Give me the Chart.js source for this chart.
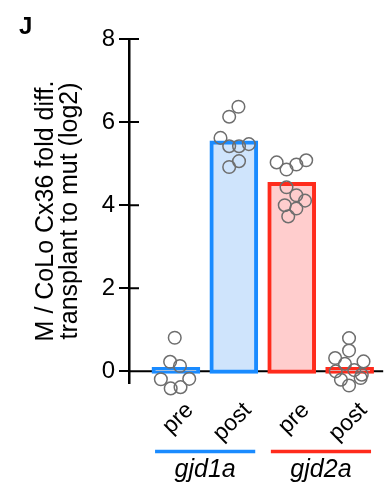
<!DOCTYPE html>
<html>
<head>
<meta charset="utf-8">
<script src="https://cdn.jsdelivr.net/npm/chart.js@4.4.1/dist/chart.umd.min.js"></script>
<style>
  html, body { margin: 0; padding: 0; background: #fff; }
  canvas { display: block; }
</style>
</head>
<body>
<canvas id="chart" width="391" height="492"></canvas>
<script>
//========================
// Data
//========================
const categories = ['pre', 'post', 'pre', 'post'];
const groups = ['gjd1a', 'gjd2a'];
const groupFirst = [0, 2];
const groupLast = [1, 3];
const barMeans = [0.1, 5.55, 4.55, 0.1];
const yTicks = [0, 2, 4, 6, 8];

// single fish, jitter = sideways offset from the category centre
const gjd1aPre = [0.81, 0.23, 0.13, -0.19, -0.18, -0.41, -0.38];
const gjd1aPreJitter = [-0.02, -0.10, 0.07, -0.26, 0.23, -0.09, 0.08];
const gjd1aPost = [6.37, 6.13, 5.62, 5.42, 5.42, 5.47, 5.06, 4.92];
const gjd1aPostJitter = [0.08, -0.08, -0.23, -0.08, 0.09, 0.26, 0.09, -0.08];
const gjd2aPre = [5.03, 4.86, 4.98, 5.08, 4.43, 4.24, 4.11, 4.00, 3.92, 3.73];
const gjd2aPreJitter = [-0.26, -0.09, 0.08, 0.25, -0.09, 0.08, 0.23, -0.12, 0.08, -0.06];
const gjd2aPost = [0.80, 0.50, 0.32, 0.18, 0.24, 0.00, 0.03, -0.08, -0.20, -0.16, -0.34];
const gjd2aPostJitter = [-0.01, -0.01, -0.25, -0.08, 0.24, -0.24, 0.08, 0.21, -0.15, 0.19, -0.01];

const fishValues = [gjd1aPre, gjd1aPost, gjd2aPre, gjd2aPost];
const fishJitter = [gjd1aPreJitter, gjd1aPostJitter, gjd2aPreJitter, gjd2aPostJitter];

//========================
// Styles
//========================
const blue = '#1a8bff';
const red = '#ff2b1c';
const barBorders = [blue, blue, red, red];
const barFills = ['#cfe4fc', '#cfe4fc', '#ffcdcd', '#ffcdcd'];
const groupColors = [blue, red];
const FONT = "'Liberation Sans', Arial, Helvetica, sans-serif";

Chart.defaults.font.family = FONT;
Chart.defaults.color = '#000';

const scatterSets = fishValues.map((vals, c) => ({
  type: 'scatter',
  data: vals.map((v, i) => ({ x: c + fishJitter[c][i], y: v })),
  pointRadius: 6.3,
  pointBorderWidth: 1.5,
  pointBorderColor: '#6e6e6e',
  pointBackgroundColor: 'rgba(0,0,0,0)',
  clip: false,
  order: 1
}));

//========================
// Extra drawing: zero line, inner tick halves, group bars, panel letter
//========================
const decorations = {
  id: 'decorations',
  beforeDatasetsDraw(chart) {
    const { ctx, chartArea, scales: { y } } = chart;
    const y0 = y.getPixelForValue(0);
    ctx.save();
    ctx.strokeStyle = '#000';
    ctx.lineWidth = 2;
    ctx.beginPath();
    ctx.moveTo(chartArea.left, y0);
    ctx.lineTo(chartArea.right, y0);
    y.ticks.forEach(t => {
      const py = y.getPixelForValue(t.value);
      ctx.moveTo(chartArea.left, py);
      ctx.lineTo(chartArea.left + 10, py);
    });
    ctx.stroke();
    ctx.restore();
  },
  afterDraw(chart) {
    const { ctx, chartArea, scales: { x } } = chart;
    const lineY = chartArea.bottom + 68.5;
    ctx.save();
    groups.forEach((g, i) => {
      const x1 = x.getPixelForValue(groupFirst[i] - 0.36);
      const x2 = x.getPixelForValue(groupLast[i] + 0.37);
      ctx.strokeStyle = groupColors[i];
      ctx.lineWidth = 3.5;
      ctx.beginPath();
      ctx.moveTo(x1, lineY);
      ctx.lineTo(x2, lineY);
      ctx.stroke();
      ctx.fillStyle = '#000';
      ctx.font = 'italic 25px ' + FONT;
      ctx.textAlign = 'center';
      ctx.textBaseline = 'alphabetic';
      ctx.fillText(g, (x1 + x2) / 2, chartArea.bottom + 94);
    });
    ctx.font = 'bold 24px ' + FONT;
    ctx.textAlign = 'left';
    ctx.fillText('J', 19, 34);
    ctx.restore();
  }
};

new Chart(document.getElementById('chart'), {
  type: 'bar',
  data: {
    datasets: [
      ...scatterSets,
      {
        type: 'bar',
        data: barMeans.map((v, i) => ({ x: i, y: v })),
        backgroundColor: barFills,
        borderColor: barBorders,
        borderWidth: 4,
        borderSkipped: false,
        barThickness: 48,
        base: -0.05,
        order: 2
      }
    ]
  },
  options: {
    responsive: false,
    animation: false,
    devicePixelRatio: 1,
    layout: { padding: { left: 30, right: 4, top: 39, bottom: 0 } },
    plugins: { legend: { display: false }, tooltip: { enabled: false } },
    scales: {
      x: {
        type: 'linear',
        offset: false,
        min: -0.81,
        max: 3.58,
        afterBuildTicks: s => { s.ticks = categories.map((c, i) => ({ value: i })); },
        afterFit: s => { s.height = 109; },
        grid: { display: false, drawTicks: false },
        border: { display: false },
        ticks: {
          autoSkip: false,
          minRotation: 45,
          maxRotation: 45,
          padding: 14,
          labelOffset: 14,
          font: { size: 23 },
          callback: v => categories[v]
        }
      },
      y: {
        min: -0.28,
        max: 8,
        afterBuildTicks: s => { s.ticks = yTicks.map(v => ({ value: v })); },
        afterFit: s => { s.width = 99; },
        grid: { drawOnChartArea: false, tickLength: 10, color: '#000', lineWidth: 2 },
        border: { color: '#000', width: 2.5 },
        ticks: { padding: 4, font: { size: 24 } },
        title: {
          display: true,
          text: ['M / CoLo Cx36 fold diff.', 'transplant to mut (log2)'],
          font: { size: 25, lineHeight: 0.95 },
          padding: { top: 4, bottom: 0 }
        }
      }
    }
  },
  plugins: [decorations]
});
</script>
</body>
</html>
